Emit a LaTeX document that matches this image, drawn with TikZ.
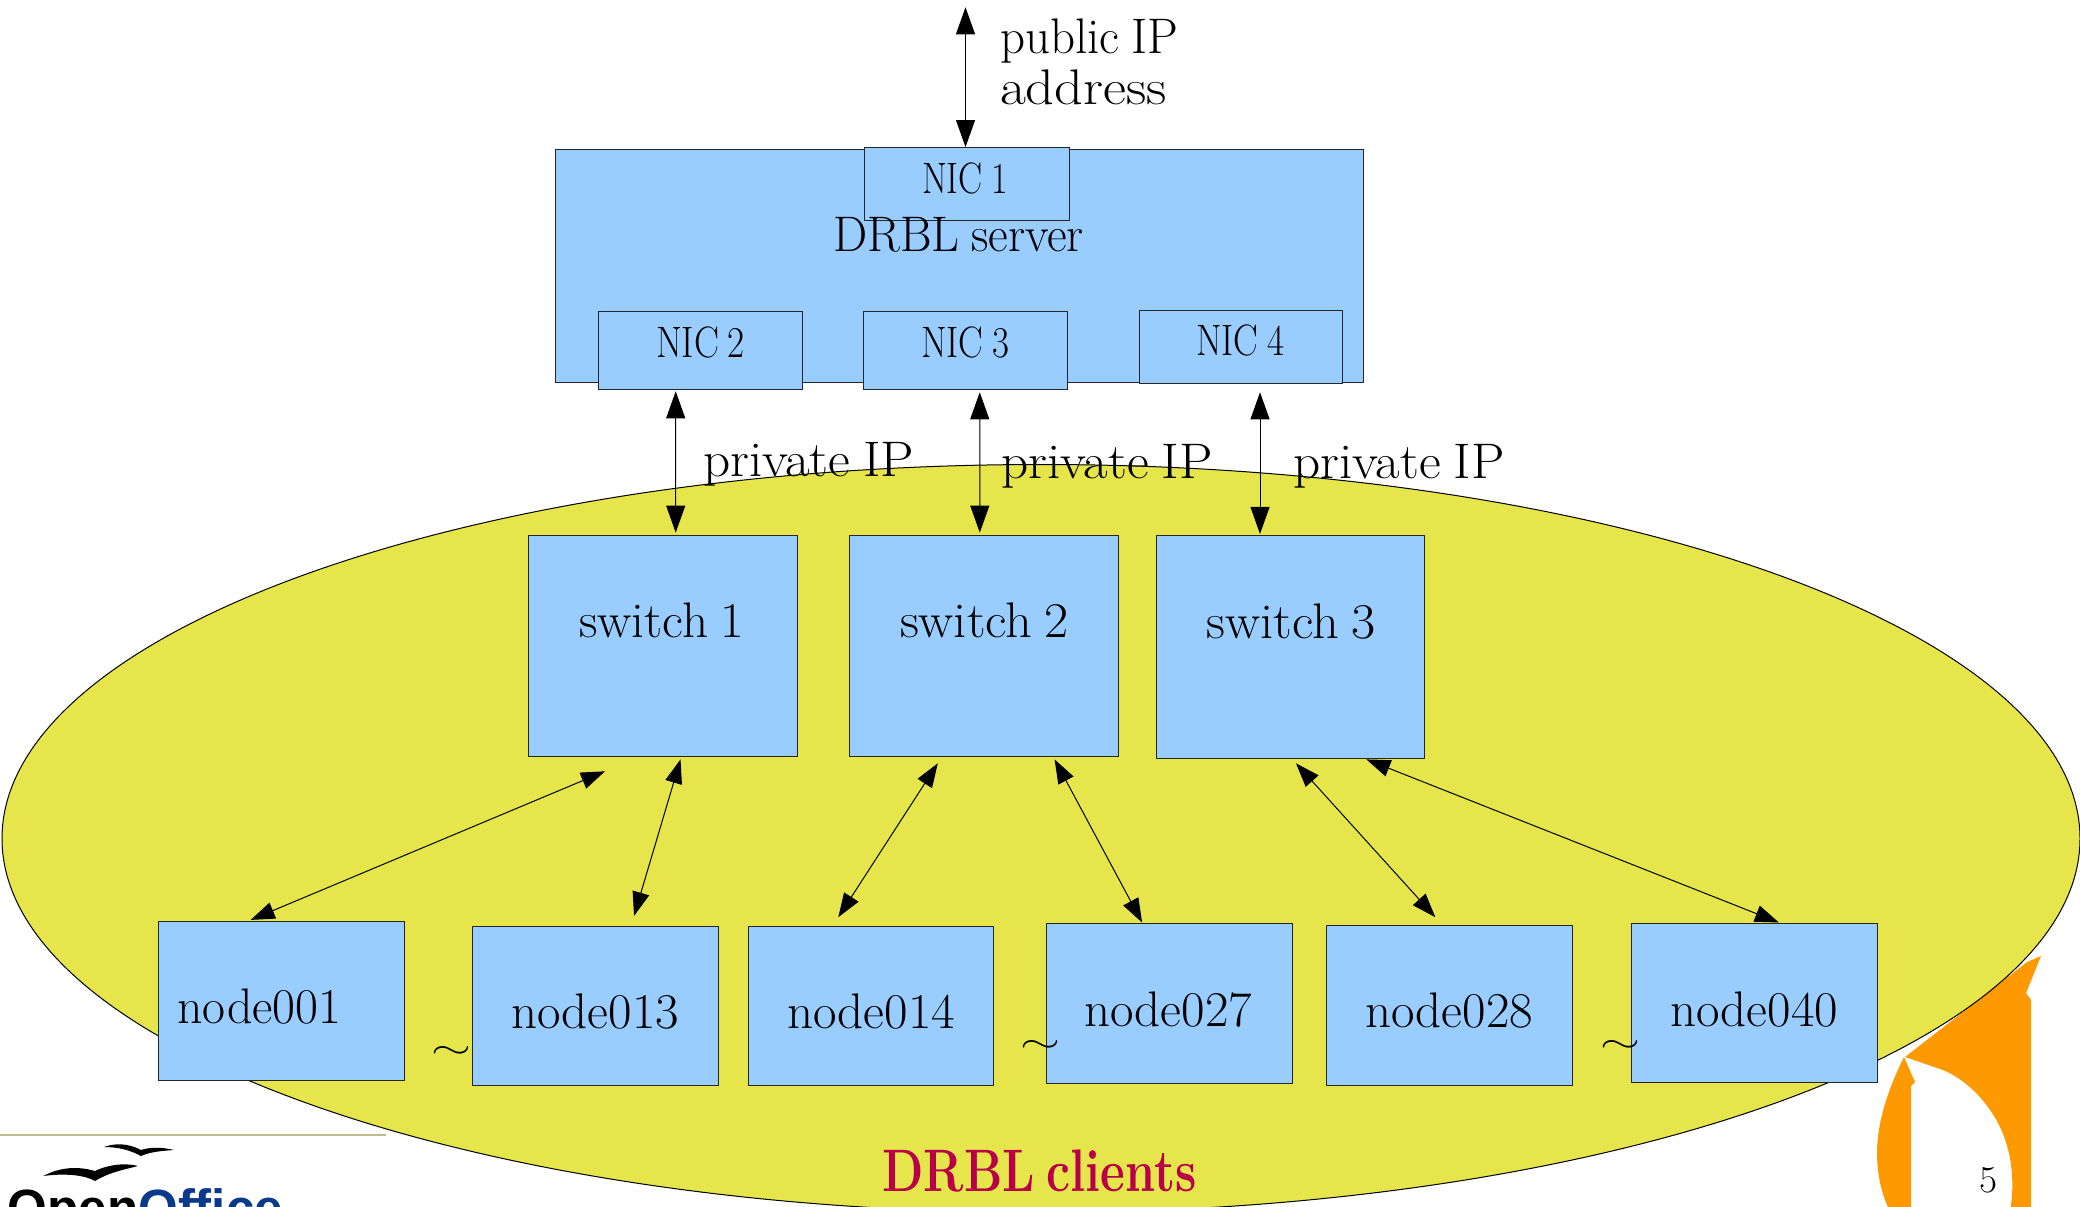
\documentclass[tikz,border=0pt]{standalone}
\usepackage{graphicx}
\usepackage{fontspec}
\newfontfamily\logofont{Liberation Sans}
\usetikzlibrary{arrows.meta}
\definecolor{boxblue}{HTML}{99CCFF}
\definecolor{clientyellow}{HTML}{E6E64C}
\definecolor{penguin}{HTML}{FF9900}
\definecolor{crimsontext}{HTML}{B80048}
\definecolor{logoblue}{HTML}{0B3A8C}
\definecolor{logoline}{HTML}{BDBD8F}
\newcommand{\fitT}[3]{{\fontsize{#2pt}{#2pt}\selectfont\resizebox{#1pt}{\height}{#3}}}
\newcommand{\nsp}{\hspace{.24em}}
\tikzset{
  box/.style={draw=black!85,line width=1pt,fill=boxblue,inner sep=0pt,outer sep=0pt,yshift=-0.6pt},
  txt/.style={inner sep=0pt,outer sep=0pt,anchor=base west},
  conn/.style={draw=black,line width=1pt,{Triangle[length=27pt,width=19pt]}-{Triangle[length=27pt,width=19pt]}},
  conndiag/.style={draw=black,line width=1pt,{Triangle[length=24pt,width=17pt]}-{Triangle[length=24pt,width=17pt]}},
}
\begin{document}
\begin{tikzpicture}[x=1pt,y=-1pt]
\useasboundingbox (0,0) rectangle (2080,1207);
\clip (0,0) rectangle (2080,1207);
% orange slide decoration
\fill[penguin] (2041,956) -- (2026,993) -- (2031,1000) -- (2031,1207) -- (2010.7,1207)
  .. controls (2016,1170) and (2008,1135) .. (1990,1110)
  .. controls (1975,1088) and (1955,1074) .. (1940,1069)
  -- (1905,1057) -- (2027,962) -- cycle;
\fill[penguin] (1904,1057) -- (1915,1082) -- (1911,1086) -- (1911,1207) -- (1888,1207)
  .. controls (1880,1190) and (1877,1170) .. (1877,1153)
  .. controls (1877,1120) and (1890,1085) .. (1904,1057) -- cycle;
% clients ellipse
\draw[fill=clientyellow,line width=1pt,draw=black] (1041,838.5) ellipse [x radius=1039, y radius=374];
% logo
\draw[logoline,line width=2pt] (0,1135) -- (386,1135);
\fill[black] (43.3,1176) .. controls (60,1167) and (78,1166) .. (95,1171)
  .. controls (105,1166) and (122,1162) .. (138,1166)
  .. controls (122,1170) and (108,1173) .. (95,1181)
  .. controls (85,1175) and (65,1173) .. (43.3,1176) -- cycle;
\fill[black] (104,1147) .. controls (115,1143) and (128,1143) .. (141,1150)
  .. controls (150,1147) and (162,1147) .. (174,1150)
  .. controls (160,1151) and (150,1152) .. (141,1156)
  .. controls (130,1150) and (118,1147) .. (104,1147) -- cycle;
\node[txt] (logo) at (8,1225) {\logofont\bfseries\fontsize{51pt}{51pt}\selectfont Open\textcolor{logoblue}{Office}};
% server
\node[box,minimum width=808pt,minimum height=233pt] (server) at (959,265.2) {};
\node[box,minimum width=204.3pt,minimum height=73.5pt] (nic1) at (967,183.2) {};
\node[box,minimum width=204.2pt,minimum height=78pt] (nic2) at (700.4,350) {};
\node[box,minimum width=204.1pt,minimum height=78pt] (nic3) at (965.55,350) {};
\node[box,minimum width=203.4pt,minimum height=73pt] (nic4) at (1240.7,346.5) {};
% switches
\node[box,minimum width=269.2pt,minimum height=221.5pt] (sw1) at (662.6,645.35) {};
\node[box,minimum width=268.6pt,minimum height=221.5pt] (sw2) at (983.9,645.35) {};
\node[box,minimum width=268.7pt,minimum height=222.2pt] (sw3) at (1290.35,646.3) {};
% client nodes
\node[box,minimum width=246.1pt,minimum height=159.2pt] (n1) at (281.5,1000.2) {};
\node[box,minimum width=246.1pt,minimum height=159.2pt] (n13) at (595.25,1005.5) {};
\node[box,minimum width=245.4pt,minimum height=159.2pt] (n14) at (870.8,1005.5) {};
\node[box,minimum width=246pt,minimum height=159.2pt] (n27) at (1169,1002.9) {};
\node[box,minimum width=245.5pt,minimum height=159.2pt] (n28) at (1449.25,1004.8) {};
\node[box,minimum width=245.4pt,minimum height=159.2pt] (n40) at (1754.3,1002.2) {};
% connectors
\coordinate (pubend) at (965.5,7.3);
\draw[conn] (pubend) -- ([xshift=-1.5pt]nic1.north);
\draw[conn] ([xshift=-24.7pt,yshift=-1.7pt]nic2.south) -- ([xshift=13.1pt,yshift=2.6pt]sw1.north);
\draw[conn] ([xshift=14.2pt,yshift=-2.7pt]nic3.south) -- ([xshift=-4.1pt,yshift=2.6pt]sw2.north);
\draw[conn] ([xshift=19.3pt,yshift=-8.7pt]nic4.south) -- ([xshift=-30.35pt,yshift=1.9pt]sw3.north);
\draw[conndiag] ([xshift=-57.6pt,yshift=-14.6pt]sw1.south) -- ([xshift=-30.8pt,yshift=1.3pt]n1.north);
\draw[conndiag] ([xshift=17.9pt,yshift=-2.7pt]sw1.south) -- ([xshift=38.8pt,yshift=10.6pt]n13.north);
\draw[conndiag] ([xshift=-46.1pt,yshift=-6.6pt]sw2.south) -- ([xshift=-32.5pt,yshift=9.3pt]n14.north);
\draw[conndiag] ([xshift=70.7pt,yshift=-2.7pt]sw2.south) -- ([xshift=-26.9pt,yshift=1.4pt]n27.north);
\draw[conndiag] ([xshift=5.65pt,yshift=-5.3pt]sw3.south) -- ([xshift=-13.95pt,yshift=8.6pt]n28.north);
\draw[conndiag] ([xshift=76pt,yshift=-1.4pt]sw3.south) -- ([xshift=24.6pt,yshift=0.7pt]n40.north);
% labels
\node[txt] (tpub) at (1000,54) {\fitT{178}{50}{public\nsp IP}};
\node[txt] (taddr) at (1000,105) {\fitT{167}{50}{address}};
\node[txt] (tnic1) at (922,193) {\fitT{86}{44}{NIC\nsp 1}};
\node[txt] (tserver) at (833,251) {\fitT{251}{50}{DRBL\nsp server}};
\node[txt] (tnic2) at (656,357) {\fitT{89}{44}{NIC\nsp 2}};
\node[txt] (tnic3) at (921,357) {\fitT{88}{44}{NIC\nsp 3}};
\node[txt] (tnic4) at (1196,355) {\fitT{88}{44}{NIC\nsp 4}};
\node[txt] (tpriv1) at (703,476) {\fitT{211}{50}{private\nsp IP}};
\node[txt] (tpriv2) at (1001.5,478) {\fitT{211}{50}{private\nsp IP}};
\node[txt] (tpriv3) at (1293.5,478) {\fitT{211}{50}{private\nsp IP}};
\node[txt] (tsw1) at (579,637) {\fitT{165}{50}{switch\nsp 1}};
\node[txt] (tsw2) at (900,637) {\fitT{169}{50}{switch\nsp 2}};
\node[txt] (tsw3) at (1206.5,638) {\fitT{169}{50}{switch\nsp 3}};
\node[txt] (tn1) at (177.5,1023.5) {\fitT{164}{50}{node001}};
\node[txt] (tn13) at (511,1028.5) {\fitT{168}{50}{node013}};
\node[txt] (tn14) at (787,1028.5) {\fitT{168}{50}{node014}};
\node[txt] (tn27) at (1084,1026.5) {\fitT{168}{50}{node027}};
\node[txt] (tn28) at (1365,1027.5) {\fitT{168}{50}{node028}};
\node[txt] (tn40) at (1670,1026.5) {\fitT{168}{50}{node040}};
\node[inner sep=0pt] (til1) at (451.5,1052) {\resizebox{40pt}{12pt}{$\sim$}};
\node[inner sep=0pt] (til2) at (1040,1046) {\resizebox{40pt}{12pt}{$\sim$}};
\node[inner sep=0pt] (til3) at (1620,1046) {\resizebox{40pt}{12pt}{$\sim$}};
\node[txt,text=crimsontext] (tclients) at (882.5,1191.7) {\fitT{314}{60}{\bfseries DRBL\nsp clients}};
\node[txt] (tpage) at (1979,1192) {\fitT{18}{38}{5}};
\end{tikzpicture}
\end{document}
